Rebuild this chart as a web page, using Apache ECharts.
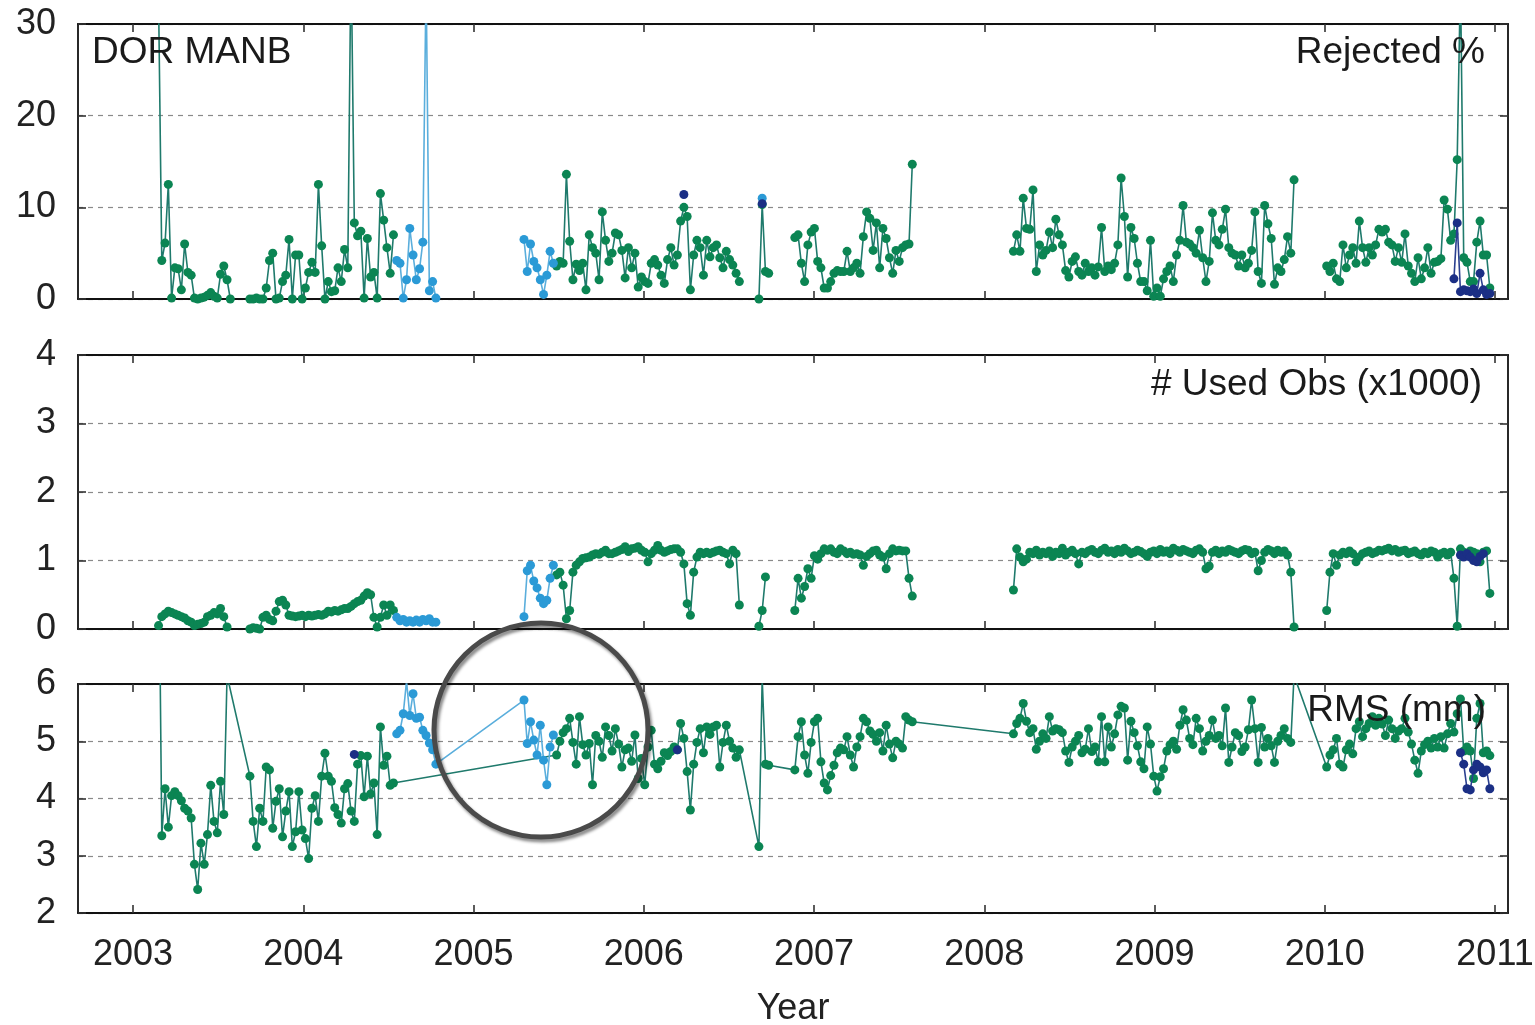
<!DOCTYPE html>
<html>
<head>
<meta charset="utf-8">
<script src="https://cdn.jsdelivr.net/npm/echarts@6/dist/echarts.min.js"></script>
<style>
html,body{margin:0;padding:0;background:#fff;}
#chart{width:1535px;height:1025px;}
</style>
</head>
<body>
<div id="chart"></div>
<script>
// ---- epochs: weekly solutions, index i -> year ----
const epochStart = 2003.15;
const epochStepYears = 7 / 365.25;
const yearTicks = [2003, 2004, 2005, 2006, 2007, 2008, 2009, 2010, 2011];
const panelLabels = ['DOR MANB', 'Rejected %', '# Used Obs (x1000)', 'RMS (mm)'];
const axisTitleX = 'Year';

// ---- Rejected % (segments: [start epoch index, values]) ----
const rejectedGreen = [
  [0, [33,4.2,6.1,12.5,0.1,3.4,3.3,1.0,6.0,2.9,2.6,0.1,0,0.1,0.2,0.4,0.7,0.3,0.1,2.7,3.6,2.1,0]],
  [28, [0,0,0.1,0,0, 1.2,4.2,5.0,0,0.1, 1.9,2.6,6.5,0,4.8, 4.8,0,1.2,2.9,4.0, 2.9,12.5,5.8,0,1.9,
        0.8,0.9,3.4,1.9,5.4, 3.4,38,8.3,6.9,7.4, 0.1,6.6,2.4,2.9,0.1, 11.5,8.6,5.6,2.8,7.0]],
  [122, [3.6,4.1,3.9,13.6,6.3,2.1,3.8,3.1,3.9,1.0, 7.0,5.6,5.0,2.1,9.5,6.4,4.1,5.0,7.2,7.0,
         5.3,2.3,5.6,3.4,5.0,1.3,2.4,1.9,1.7,3.9, 4.3,3.7,2.6,1.7,4.3,5.6,3.7,4.8,8.5,10.0,
         9.0,1.0,4.8,6.4,5.6,2.6,6.4,4.6,5.6,5.9, 4.5,3.4,5.2,4.3,3.7,2.8,1.9,
         null,null,null,null,null, 0,10.3,3.0,2.8]],
  [195, [6.7,7.0,3.9,1.9,5.9,7.3,7.7,4.1,3.4,1.2, 1.2,1.9,2.8,3.1,3.0,3.0,5.2,3.0,3.4,3.9,
         2.8,6.8,9.5,8.8,5.3,8.3,3.4,7.7,6.6,4.5, 2.8,5.3,4.1,5.6,5.9,6.0,14.7]],
  [262, [5.2,7.0,5.2,11.0,7.7,7.6,11.9,3.0,5.9,4.8, 5.3,7.3,5.6,8.7,7.0,5.9,3.1,2.4,4.1,4.6,
         3.0,2.6,3.9,3.0,3.4,2.6,3.5,7.8,3.0,3.6, 3.2,3.9,5.9,13.2,9.0,2.4,7.8,6.6,3.9,1.9,
         1.9,0.9,6.4,0.3,1.2,0.3,2.2,3.0,3.6,1.9, 4.8,6.4,10.2,6.2,6.0,5.6,5.0,7.5,4.5,1.9,
         4.1,9.4,6.4,5.9,7.6,9.8,5.6,5.0,4.8,3.6, 4.8,3.4,3.9,5.3,9.5,3.0,1.7,10.2,8.2,6.6,
         1.6,3.4,3.0,4.3,6.8,5.0,13.0]],
  [358, [3.6,3.0,3.9,2.2,1.9,5.9,3.4,4.8,5.6,3.9, 8.5,5.6,4.0,5.6,4.8,5.9,7.6,7.3,7.6,6.2,
         5.9,4.1,5.6,4.0,7.1,3.6,2.8,1.9,4.5,2.2, 3.4,5.6,2.8,4.0,4.1,4.4,10.8,9.8,6.4,7.1,
         15.2,35,4.5,4.0,1.9,1.9,6.2,8.5,4.8,4.8, 1.2]]
];
const rejectedBlue = [
  [73, [4.2,3.9,0.1,2.1,7.7,4.8,2.1,3.3,6.2,35,0.9,1.9,0.1]],
  [112, [6.5,3.0,6.0,4.1,3.4,2.1,0.5,2.6,5.2,3.9]],
  [185, [11.0]]
];
const rejectedDark = [
  [161, [11.4]],
  [185, [10.4]],
  [397, [2.2,8.3,0.8,1.0,0.9,0.8,1.1,0.6,2.8,1.0,0.5,0.6]]
];

// ---- # Used Obs (x1000) ----
const usedObsGreen = [
  [0, [0.05,0.18,0.22,0.26,0.24,0.22,0.2,0.18,0.16,0.12,0.1,0.05,0.07,0.08,0.1,0.18,0.2,0.24,0.22,0.3,0.18,0.03]],
  [28, [0,0.02,0.01,0,0.17, 0.2,0.14,0.12,0.26,0.4, 0.42,0.35,0.2,0.19,0.18, 0.19,0.2,0.18,0.2,0.19,
        0.2,0.21,0.2,0.22,0.26, 0.25,0.27,0.26,0.28,0.3, 0.3,0.33,0.37,0.4,0.42, 0.48,0.53,0.5,0.17,0.03,
        0.17,0.35,0.2,0.35,0.27]],
  [122, [0.79,0.83,0.64,0.15,0.27,0.83,0.93,0.98,1.03,1.04, 1.05,1.08,1.1,1.09,1.12,1.15,1.1,1.1,1.12,1.14,
         1.16,1.2,1.13,1.17,1.18,1.2,1.15,1.12,0.98,1.1, 1.15,1.22,1.15,1.12,1.14,1.16,1.17,1.17,1.12,0.95,
         0.37,0.2,0.83,1.05,1.12,1.1,1.12,1.1,1.12,1.14, 1.15,1.12,1.1,0.95,1.15,1.1,0.35,
         null,null,null,null,null, 0.04,0.27,0.76]],
  [195, [0.27,0.74,0.45,0.62,0.88, 0.74,1.07,1.02,1.1,1.17, 1.15,1.17,1.12,1.1,1.17, 1.14,1.1,1.12,1.09,1.1,
         1.08,0.93,1.06,1.1,1.14, 1.15,1.08,1.05,0.88,1.1, 1.17,1.14,1.15,1.14,1.14, 0.74,0.48]],
  [262, [0.57,1.17,1.05,0.98,1.02,1.12,1.1,1.15,1.08,1.12, 1.1,1.14,1.06,1.12,1.1,1.18,1.08,1.12,1.15,1.1,
         0.95,1.12,1.1,1.14,1.16,1.12,1.1,1.15,1.18,1.12, 1.14,1.1,1.16,1.12,1.18,1.14,1.1,1.12,1.15,1.13,
         1.1,1.06,1.12,1.14,1.1,1.16,1.12,1.14,1.1,1.18, 1.15,1.12,1.16,1.14,1.12,1.1,1.15,1.17,1.12,0.88,
         0.92,1.12,1.15,1.1,1.14,1.12,1.16,1.14,1.12,1.1, 1.14,1.16,1.15,1.1,1.12,0.85,1.0,1.12,1.16,1.14,
         1.1,1.15,1.12,1.14,1.08,0.83,0.03]],
  [358, [0.27,0.83,1.1,0.93,1.08,1.12,1.1,1.14,1.1,0.98, 1.05,1.1,1.12,1.14,1.1,1.12,1.15,1.14,1.16,1.18,
         1.14,1.16,1.12,1.14,1.15,1.1,1.12,1.14,1.1,1.08, 1.12,1.1,1.14,1.12,1.05,1.1,1.12,1.08,1.12,0.74,
         0.04,1.17,1.12,1.1,1.14,1.12,1.1,0.98,1.12,1.14, 0.52]]
];
const usedObsBlue = [
  [73, [0.17,0.12,0.14,0.1,0.12,0.1,0.13,0.1,0.14,0.12,0.15,0.1,0.1]],
  [112, [0.18,0.85,0.93,0.7,0.6,0.45,0.37,0.42,0.74,0.93]]
];
const usedObsDark = [
  [399, [1.08,1.05,1.1,1.05,1.0,0.98,1.06,1.1]]
];

// ---- RMS (mm) ----
const rmsGreen = [
  [0, [9.0,3.35,4.17,3.5,4.05,4.12,4.05,3.96,3.83,3.78,3.66,2.85,2.41,3.22,2.85,3.37,4.23,3.6,3.4,4.3,3.72,6.15]],
  [28, [4.39,3.6,3.16,3.83,3.6, 4.55,4.5,3.48,3.95,4.17, 3.33,3.78,4.12,3.16,3.42, 4.12,3.45,3.3,2.95,3.83,
        4.05,3.6,4.39,4.79,4.39, 4.3,3.84,3.72,3.57,4.17, 4.26,3.78,3.6,4.6,4.75, 4.03,4.74,4.08,4.27,3.37,
        5.25,4.58,4.74,4.23,4.27]],
  [122, [4.76,5.0,5.15,5.22,5.4, 4.98,4.6,5.43,4.94,4.76, 4.96,4.24,5.1,5.0,4.72, 5.25,5.1,4.83,5.22,4.95,
         4.55,4.85,4.88,4.65,5.11, 4.35,4.7,4.24,4.9,5.19, 4.6,4.52,4.65,4.8,4.75, 4.82,4.9,4.85,5.31,5.05,
         4.47,3.8,4.6,4.98,5.22, 4.8,5.25,5.12,5.25,5.28, 4.55,4.98,5.28,5.0,4.88, 4.72,4.85,
         null,null,null,null,null, 3.16,6.1,4.6,4.58]],
  [195, [4.5,5.08,5.34,4.76,4.44, 4.98,5.34,5.4,4.64,4.27, 4.15,4.4,4.58,4.8,4.88, 4.85,5.08,4.76,4.55,4.9,
         5.08,5.4,5.34,5.18,5.12, 5.0,5.15,4.83,5.28,4.95, 4.71,5.0,4.95,4.88,5.43, 5.37,5.34]],
  [262, [5.13,5.31,5.4,5.66,5.35,5.15,5.22,4.86,5.0,5.13, 5.05,5.43,5.18,5.22,5.2,5.15,4.83,4.63,4.9,5.0,
         5.1,4.8,4.86,5.22,4.82,4.9,4.64,5.43,4.64,5.25, 4.9,5.13,5.46,5.61,5.58,4.67,5.35,5.15,4.92,4.64,
         4.52,5.25,4.95,4.39,4.13,4.38,4.52,4.83,4.94,5.0, 4.86,5.28,5.55,5.37,5.05,4.94,5.4,5.22,4.83,5.0,
         5.1,5.37,5.05,5.1,4.92,5.58,4.63,4.9,5.15,5.1, 4.82,4.9,5.2,5.72,5.22,4.63,5.24,4.9,5.05,4.92,
         4.63,5.0,5.1,5.22,5.05,4.98,6.15]],
  [358, [4.55,4.76,4.85,5.05,4.6,4.55,4.85,4.95,4.78,5.22, 5.34,5.08,5.22,5.31,5.43,5.28,5.4,5.3,5.1,5.37,
         5.22,5.05,5.18,5.22,5.4,5.16,4.95,4.67,4.44,4.83, 4.94,5.0,4.88,5.05,4.9,5.08,4.88,5.13,5.31,5.16,
         5.48,5.74,4.83,4.9,4.83,4.35,5.4,5.66,4.8,4.83, 4.75]]
];
const rmsBlue = [
  [73, [5.13,5.19,5.48,6.05,5.45,5.83,5.4,5.42,5.19,5.1,4.97,4.85,4.6]],
  [112, [5.72,4.96,5.34,5.02,4.76,5.28,4.67,4.24,4.9,5.11]]
];
const rmsDark = [
  [60, [4.77]],
  [159, [4.85]],
  [399, [4.8,4.6,4.17,4.15,4.5,4.6,4.55,4.45,4.5,4.17]]
];

// ---- build ----
function epochX(i) { return epochStart + i * epochStepYears; }
function toData(segs) {
  const out = [];
  segs.forEach(function (seg, k) {
    const s = seg[0], vals = seg[1];
    if (k > 0) out.push([epochX(s - 0.5), '-']);
    vals.forEach(function (v, j) {
      out.push([epochX(s + j), v === null ? '-' : v]);
    });
  });
  return out;
}

const FONT = '"Liberation Sans", Arial, sans-serif';
const xMin = 2002.677, xMax = 2011.076;
const grids = [
  { left: 78, width: 1430, top: 24, height: 275, outerBoundsMode: 'none' },
  { left: 78, width: 1430, top: 355, height: 274, outerBoundsMode: 'none' },
  { left: 78, width: 1430, top: 684, height: 229, outerBoundsMode: 'none' }
];
const yRanges = [[0, 30, 10], [0, 4, 1], [2, 6, 1]];

const axisLine = { show: true, onZero: false, lineStyle: { color: '#111', width: 1.8 } };
const tickStyle = { color: '#333', width: 1.6 };

const xAxes = [], yAxes = [];
for (let g = 0; g < 3; g++) {
  ['bottom', 'top'].forEach(function (pos) {
    const showLab = (g === 2 && pos === 'bottom');
    xAxes.push({
      type: 'value', gridIndex: g, position: pos, min: xMin, max: xMax,
      axisLine: axisLine,
      axisTick: { show: true, inside: true, length: 8, customValues: yearTicks, lineStyle: tickStyle },
      axisLabel: {
        show: showLab, customValues: yearTicks, margin: 24,
        fontSize: 36, fontFamily: FONT, color: '#222',
        formatter: function (v) { return String(Math.round(v)); }
      },
      splitLine: { show: false },
      name: showLab ? axisTitleX : '',
      nameLocation: 'middle', nameGap: 78,
      nameTextStyle: { fontSize: 36, fontFamily: FONT, color: '#222' }
    });
  });
  ['left', 'right'].forEach(function (pos) {
    const r = yRanges[g];
    yAxes.push({
      type: 'value', gridIndex: g, position: pos, min: r[0], max: r[1], interval: r[2],
      axisLine: axisLine,
      axisTick: { show: true, inside: true, length: 8, lineStyle: tickStyle },
      axisLabel: {
        show: pos === 'left', margin: 22, fontSize: 36, fontFamily: FONT, color: '#222'
      },
      splitLine: { show: pos === 'left', lineStyle: { type: [5, 5], color: '#8a8a8a', width: 1.2 } }
    });
  });
}

const palette = {
  green: { sym: '#0b8553', line: '#1f7a6c' },
  blue:  { sym: '#2b9ad6', line: '#5aaedc' },
  dark:  { sym: '#1b2f85', line: '#2a3f8f' }
};
const panels = [
  { green: rejectedGreen, blue: rejectedBlue, dark: rejectedDark, connect: false },
  { green: usedObsGreen, blue: usedObsBlue, dark: usedObsDark, connect: false },
  { green: rmsGreen, blue: rmsBlue, dark: rmsDark, connect: true }
];
const series = [];
panels.forEach(function (p, g) {
  ['green', 'blue', 'dark'].forEach(function (key) {
    series.push({
      type: 'line', xAxisIndex: 2 * g, yAxisIndex: 2 * g,
      data: toData(p[key]),
      connectNulls: p.connect && key !== 'dark',
      symbol: 'circle', symbolSize: 9, showSymbol: true,
      itemStyle: { color: palette[key].sym },
      lineStyle: { color: palette[key].line, width: 1.6 },
      clip: true, silent: true,
      emphasis: { disabled: true },
      z: key === 'green' ? 2 : (key === 'blue' ? 3 : 4)
    });
  });
});

const textStyle = function (text, x, y, align) {
  return {
    type: 'text', z: 100,
    style: {
      text: text, x: x, y: y, font: '37px ' + FONT, fill: '#1a1a1a',
      textAlign: align, textVerticalAlign: 'middle'
    }
  };
};

const option = {
  animation: false,
  backgroundColor: '#ffffff',
  grid: grids,
  xAxis: xAxes,
  yAxis: yAxes,
  series: series,
  graphic: [
    textStyle(panelLabels[0], 92, 53, 'left'),
    textStyle(panelLabels[1], 1485, 53, 'right'),
    textStyle(panelLabels[2], 1482, 385, 'right'),
    textStyle(panelLabels[3], 1486, 711, 'right'),
    {
      type: 'circle', z: 100,
      shape: { cx: 541, cy: 730, r: 107 },
      style: {
        fill: 'none', stroke: '#4a4a4a', lineWidth: 5,
        shadowColor: 'rgba(0,0,0,0.45)', shadowBlur: 3, shadowOffsetX: 2, shadowOffsetY: 3
      }
    }
  ]
};

const chart = echarts.init(document.getElementById('chart'), null, { renderer: 'canvas' });
chart.setOption(option);
</script>
</body>
</html>
